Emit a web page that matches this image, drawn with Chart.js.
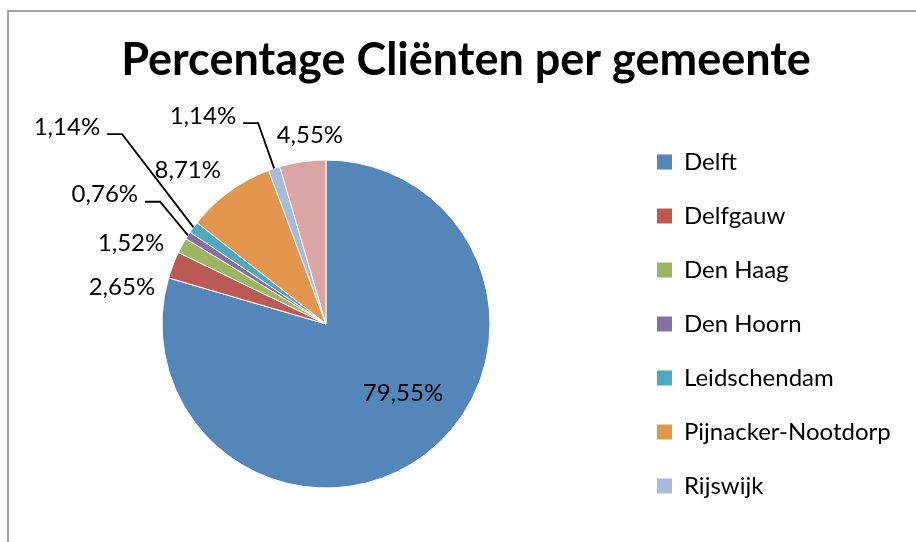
<!DOCTYPE html>
<html>
<head>
<meta charset="utf-8">
<script src="https://cdn.jsdelivr.net/npm/chart.js@4"></script>
<style>
  html, body { margin: 0; padding: 0; background: #fff; overflow: hidden; }
  #frame {
    position: absolute; left: 7px; top: 10px; width: 1000px; height: 1000px;
    border-left: 2px solid #a0a0a0; border-top: 2px solid #a0a0a0;
  }
  #chart { position: absolute; left: 0; top: 0; }
</style>
</head>
<body>
<div id="frame"></div>
<canvas id="chart" width="916" height="552"></canvas>
<script>
// data
const municipalities = [
  "Delft", "Delfgauw", "Den Haag", "Den Hoorn",
  "Leidschendam", "Pijnacker-Nootdorp", "Rijswijk", "Zoetermeer",
];
const percentages = [79.55, 2.65, 1.52, 0.76, 1.14, 8.71, 1.14, 4.55];
const sliceColors = [
  "#5586b9", "#bb5a55", "#9cb562", "#866fa0",
  "#4ea8c0", "#e3974e", "#a6badb", "#d9a6a5",
];
const legendShown = 7; // last entry falls off the bottom of the legend

// label placement (style): angle shift from slice middle, distance as radius factor
const labelShiftDeg = [-11.3, -11.0, -6.0, -2.4, 1.1, -5.8, -12.2, 3.3];
const labelRadius = [0.63, 1.264, 1.288, 1.562, 1.984, 1.261, 1.473, 1.154];
const hasLeader = [false, false, false, true, true, false, true, false];

const LABEL_FONT = "24px Lato";
const LEGEND_WIDTH = 280;

const fmt = (v) => v.toFixed(2).replace(".", ",") + "%";

const sliceLabels = {
  id: "sliceLabels",
  afterDatasetsDraw(chart) {
    const { ctx } = chart;
    const meta = chart.getDatasetMeta(0);
    ctx.save();
    ctx.font = LABEL_FONT;
    ctx.fillStyle = "#000";
    ctx.strokeStyle = "#000";
    ctx.lineWidth = 1.8;
    ctx.textAlign = "center";
    ctx.textBaseline = "middle";
    meta.data.forEach((arc, i) => {
      const { x, y, startAngle, endAngle, outerRadius } = arc.getProps(
        ["x", "y", "startAngle", "endAngle", "outerRadius"], true);
      const mid = (startAngle + endAngle) / 2;
      const a = mid + (labelShiftDeg[i] * Math.PI) / 180;
      const d = outerRadius * labelRadius[i];
      const tx = x + Math.cos(a) * d;
      const ty = y + Math.sin(a) * d;
      const text = fmt(percentages[i]);
      ctx.fillText(text, tx, ty);
      if (hasLeader[i]) {
        const w = ctx.measureText(text).width;
        const ly = ty + 7;
        const x0 = tx + w / 2 + 7;
        ctx.beginPath();
        ctx.moveTo(x0, ly);
        ctx.lineTo(x0 + 15, ly);
        ctx.lineTo(x + Math.cos(mid) * outerRadius, y + Math.sin(mid) * outerRadius);
        ctx.stroke();
      }
    });
    ctx.restore();
  },
};

// widen the legend box so the pie sits where Excel put it
const legendWidth = {
  id: "legendWidth",
  beforeLayout(chart) {
    const lg = chart.legend;
    if (lg && !lg._fixedFit) {
      const fit = lg.fit;
      lg.fit = function () {
        fit.call(this);
        this.width = LEGEND_WIDTH;
      };
      lg._fixedFit = true;
    }
  },
};

Chart.defaults.color = "#000";
Chart.defaults.font.family = "Lato";

new Chart(document.getElementById("chart"), {
  type: "pie",
  data: {
    labels: municipalities,
    datasets: [{
      data: percentages,
      backgroundColor: sliceColors,
      borderColor: "#ffffff",
      borderWidth: 1,
      radius: 164,
    }],
  },
  options: {
    responsive: false,
    animation: false,
    events: [],
    layout: { padding: { left: 25, right: 9, top: 0, bottom: 4 } },
    plugins: {
      title: {
        display: true,
        text: "Percentage Cliënten per gemeente",
        font: { family: "Lato", size: 45, weight: "bold" },
        color: "#000",
        padding: { top: 33, bottom: 13 },
      },
      legend: {
        position: "right",
        fullSize: false,
        labels: {
          font: { family: "Lato", size: 24 },
          boxWidth: 15,
          boxHeight: 15,
          padding: 30,
          color: "#000",
          filter: (item) => item.index < legendShown,
          generateLabels: (chart) =>
            Chart.overrides.pie.plugins.legend.labels
              .generateLabels(chart)
              .map((item) => ({ ...item, lineWidth: 0 })),
        },
      },
      tooltip: { enabled: false },
    },
  },
  plugins: [legendWidth, sliceLabels],
});
</script>
</body>
</html>
